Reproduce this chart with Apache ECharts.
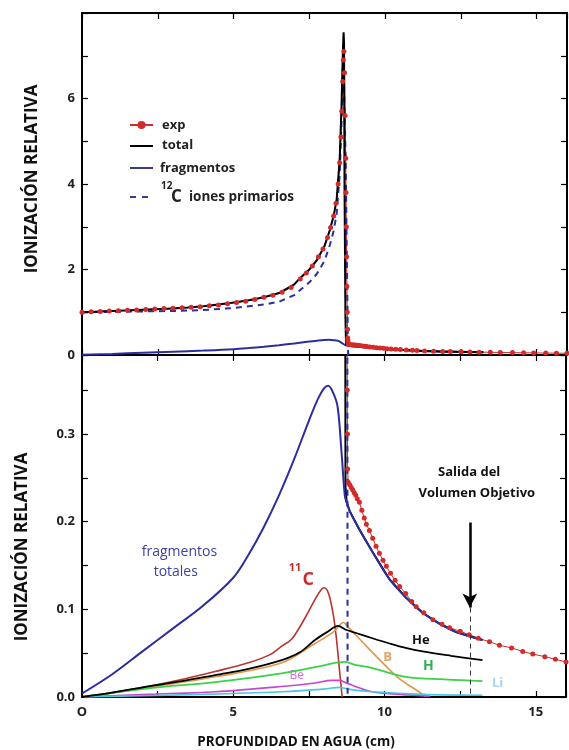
<!DOCTYPE html>
<html><head><meta charset="utf-8">
<script src="https://cdn.jsdelivr.net/npm/echarts@6/dist/echarts.min.js"></script>
<style>html,body{margin:0;padding:0;background:#fff}#c{width:569px;height:750px}</style>
</head><body><div id="c"></div>
<script>
// ---- data (depth in cm, relative ionization) ----
var expX = [0.0,0.3,0.6,0.9,1.2,1.5,1.8,2.1,2.4,2.7,3.0,3.3,3.6,3.9,4.2,4.5,4.8,5.1,5.4,5.7,6.0,6.3,6.6,6.9,7.2,7.4,7.6,7.8,7.95,8.1,8.2,8.3,8.38,8.45,8.5,8.54,8.57,8.6,8.62,8.64,8.66,8.68,8.7,8.71,8.72,8.73,8.74,8.75,8.76,8.765,8.77,8.775,8.78,8.8,8.85,8.9,8.95,9.0,9.05,9.1,9.17,9.25,9.33,9.4,9.5,9.61,9.72,9.83,9.95,10.06,10.2,10.35,10.5,10.7,10.9,11.05,11.3,11.6,11.9,12.15,12.5,12.8,13.1,13.47,13.8,14.2,14.57,14.9,15.3,15.65,16.0];
var expY = [1.0,1.01,1.02,1.03,1.035,1.045,1.055,1.065,1.075,1.085,1.095,1.105,1.115,1.13,1.15,1.17,1.2,1.23,1.26,1.3,1.35,1.4,1.47,1.58,1.78,1.92,2.08,2.3,2.48,2.75,2.98,3.25,3.55,4.0,4.5,5.1,5.7,6.4,6.9,7.1,6.6,5.6,4.6,3.8,3.0,2.3,1.6,1.0,0.6,0.4,0.35,0.3,0.26,0.245,0.242,0.239,0.236,0.233,0.23,0.226,0.222,0.213,0.204,0.197,0.19,0.181,0.172,0.164,0.156,0.149,0.141,0.133,0.126,0.118,0.109,0.103,0.096,0.088,0.083,0.079,0.075,0.071,0.067,0.063,0.059,0.056,0.052,0.049,0.046,0.043,0.04];

var totX = [0,1,2,3,3.5,4,4.5,5,5.5,6,6.5,7,7.2,7.5,7.75,8,8.18,8.3,8.4,8.5,8.56,8.61,8.63,8.645,8.66,8.69,8.71,8.75,8.85,9.17,9.61,10.17,10.72,11.26,11.8,12.37,13.24];
var totY = [1.0,1.03,1.06,1.09,1.11,1.14,1.18,1.23,1.28,1.35,1.45,1.65,1.8,2.0,2.22,2.55,2.93,3.25,3.63,4.57,5.8,7.2,7.55,7.3,4.0,0.9,0.24,0.222,0.212,0.191,0.165,0.134,0.113,0.096,0.084,0.074,0.065];

var fragX = [0,1,2,3,4,5,5.5,6,6.5,7,7.5,7.8,8.0,8.14,8.3,8.45,8.58,8.69,8.75,8.85,9.17,9.61,10.17,10.72,11.26,11.8,12.37,13.24];
var fragY = [0.004,0.026,0.052,0.078,0.104,0.136,0.162,0.193,0.229,0.27,0.315,0.34,0.352,0.355,0.347,0.331,0.279,0.229,0.222,0.212,0.191,0.165,0.134,0.113,0.096,0.084,0.074,0.065];

var primX = [0,1,2,3,4,5,6,6.5,7,7.5,7.75,8.0,8.18,8.3,8.4,8.5,8.56,8.62,8.7,8.76,8.78];
var primY = [1.0,1.01,1.02,1.03,1.05,1.1,1.18,1.245,1.4,1.7,1.9,2.2,2.58,2.9,3.3,4.2,5.4,7.1,4.5,1.0,0.0];

var c11X = [0,1,2,3.3,4.4,5.5,6.2,6.6,6.9,7.15,7.45,7.7,7.9,8.01,8.15,8.3,8.4,8.5,8.6];
var c11Y = [0,0.005,0.011,0.02,0.029,0.039,0.048,0.058,0.065,0.077,0.095,0.111,0.122,0.1245,0.118,0.095,0.07,0.035,0];

var heX = [0,1,2.2,3.3,4.4,5.5,6.6,7.2,7.7,8.1,8.47,8.7,9.06,9.6,10.17,10.7,11.26,12.2,13.24];
var heY = [0,0.005,0.012,0.018,0.025,0.032,0.042,0.051,0.065,0.074,0.081,0.077,0.073,0.067,0.061,0.056,0.052,0.047,0.042];

var bX = [0,2.2,4.4,6.6,7.7,8.3,8.65,8.74,9.4,10.17,10.6,11.05,11.35];
var bY = [0,0.011,0.023,0.039,0.061,0.074,0.085,0.082,0.058,0.031,0.018,0.008,0.001];

var hX = [0,2.2,4.4,6.6,7.7,8.69,9.0,9.6,10.7,12.0,13.24];
var hY = [0,0.01,0.017,0.027,0.034,0.04,0.037,0.033,0.023,0.02,0.018];

var beX = [0,2.2,4.4,6.6,7.7,8.25,8.5,8.8,9.6,10.5,11.5];
var beY = [0,0.003,0.006,0.012,0.016,0.019,0.019,0.015,0.006,0.003,0.001];

var liX = [0,4,6.6,8.0,8.5,8.8,9.6,11.26,13.24];
var liY = [0,0.003,0.006,0.009,0.011,0.009,0.006,0.003,0.002];

var exitDepth = 12.82;          // "Salida del Volumen Objetivo"
var arrowTop = 0.199, arrowTip = 0.102;

function pairs(xs, ys){ return xs.map(function(x,i){ return [x, ys[i]]; }); }

var FONT = '"Open Sans", "DejaVu Sans", sans-serif';
var BLUE = '#2b2e9c', RED = '#d42a2a';

var chart = echarts.init(document.getElementById('c'), null, {renderer:'canvas'});

function xAx(grid, pos, labels){
  return {type:'value', gridIndex:grid, position:pos, min:0, max:16, interval:2.5,
    axisLine:{show:true, onZero:false, lineStyle:{color:'#000', width:2}},
    axisTick:{show:true, inside:true, length:6, lineStyle:{color:'#000', width:1.2}},
    splitLine:{show:false},
    axisLabel:{show:labels, margin:9, fontFamily:FONT, fontWeight:'bold', fontSize:13, color:'#222',
      formatter:function(v){ if(v===0) return 'O'; return (Math.abs(v%5)<1e-9 && v<16)? String(v): ''; }}
  };
}
function yAx(grid, pos, max, interval, labels, fmt){
  return {type:'value', gridIndex:grid, position:pos, min:0, max:max, interval:interval,
    axisLine:{show:true, onZero:false, lineStyle:{color:'#000', width:2}},
    axisTick:{show:true, inside:true, length:6, lineStyle:{color:'#000', width:1.2}},
    splitLine:{show:false},
    axisLabel:{show:labels, margin:7, fontFamily:FONT, fontWeight:'bold', fontSize:13, color:'#222', formatter:fmt}
  };
}

function lineS(name, xs, ys, color, width, gi, extra){
  var s = {name:name, type:'line', xAxisIndex:gi*2, yAxisIndex:gi*2, data:pairs(xs,ys),
    symbol:'none', smooth:0.35, clip:true, animation:false,
    lineStyle:{color:color, width:width}, itemStyle:{color:color}};
  if (extra) for (var k in extra) s[k]=extra[k];
  return s;
}
function expS(gi){
  return {name:'exp', type:'line', xAxisIndex:gi*2, yAxisIndex:gi*2, data:pairs(expX,expY),
    symbol:'circle', symbolSize:5, showSymbol:true, showAllSymbol:true, clip:true, animation:false,
    lineStyle:{color:RED, width:1}, itemStyle:{color:RED}};
}
function primS(gi){
  return lineS('12C', primX, primY, BLUE, 2, gi, {smooth:false, lineStyle:{color:BLUE, width:2, type:[6,5]}});
}
function totS(gi){
  return lineS('total', totX, totY, '#000', 2, gi, {smooth:false, lineStyle:{color:'#000', width:2, join:'miter'}});
}

var series = [
  expS(0),
  lineS('fragmentos', fragX, fragY, BLUE, 2, 0),
  primS(0),
  totS(0),

  expS(1),
  lineS('11C', c11X, c11Y, '#b83530', 1.6, 1),
  lineS('B', bX, bY, '#e3964a', 1.6, 1),
  lineS('H', hX, hY, '#3ad24a', 1.8, 1),
  lineS('Be', beX, beY, '#cc44cc', 1.6, 1),
  lineS('Li', liX, liY, '#45c8e0', 1.6, 1, {
    markLine:{silent:true, animation:false, symbol:['none','none'], label:{show:false},
      lineStyle:{color:'#333', width:1, type:[5,4]},
      data:[[{coord:[exitDepth, arrowTip]},{coord:[exitDepth, 0]}]]}
  }),
  lineS('He', heX, heY, '#000', 1.8, 1, {
    markLine:{silent:true, animation:false, symbol:['none','arrow'], symbolSize:[11,14], label:{show:false},
      lineStyle:{color:'#000', width:2.5, type:'solid'},
      data:[[{coord:[exitDepth, arrowTop]},{coord:[exitDepth, arrowTip]}]]}
  }),
  totS(1),
  primS(1),
  lineS('fragmentos', fragX, fragY, BLUE, 2, 1)
];

chart.setOption({
  animation:false,
  backgroundColor:'#fff',
  grid:[{left:82, right:2, top:13, height:342},{left:82, right:2, top:355, height:342}],
  xAxis:[xAx(0,'bottom',false), xAx(0,'top',false), xAx(1,'bottom',true), xAx(1,'top',false)],
  yAxis:[
    yAx(0,'left',8,1,true,function(v){ return (v%2===0 && v<8)? String(v): ''; }),
    yAx(0,'right',8,1,false),
    yAx(1,'left',0.39,0.05,true,function(v){ var t=v*10; return Math.abs(t-Math.round(t))<1e-6? v.toFixed(1): ''; }),
    yAx(1,'right',0.39,0.05,false)
  ],
  series:series
});

// legend drawn as graphics (upper panel)
var LG = [];
function lgLine(y, color, dash){
  LG.push({type:'line', shape:{x1:130, y1:y, x2:153, y2:y}, style:{stroke:color, lineWidth:2, lineDash:dash||null}});
}
function lgText(x, y, t, size){
  LG.push({type:'text', x:x, y:y, style:{text:t, fill:'#222', font:'bold '+(size||13)+'px '+FONT, align:'left', verticalAlign:'middle'}});
}
lgLine(125, RED); LG.push({type:'circle', shape:{cx:141.5, cy:125, r:4}, style:{fill:RED}}); lgText(162, 125, 'exp');
lgLine(146, '#000'); lgText(162, 145, 'total');
lgLine(168, '#3a3a88'); lgText(160, 168, 'fragmentos');
LG.push({type:'line', shape:{x1:130, y1:197, x2:150, y2:197}, style:{stroke:'#3a3a88', lineWidth:2, lineDash:[6,6]}});
lgText(161, 186, '12', 10); lgText(171, 197, 'C', 17); lgText(189, 197, 'iones primarios', 13.5);

// annotations placed in data coordinates of the lower panel
var notes = [
  {t:'fragmentos', x:3.22, y:0.1655, c:'#3f42a0', s:14, w:'normal'},
  {t:'totales', x:3.1, y:0.1426, c:'#3f42a0', s:14, w:'normal'},
  {t:'He', x:11.2, y:0.065, c:'#111', s:13, w:'bold'},
  {t:'B', x:10.1, y:0.045, c:'#e8a060', s:13, w:'bold'},
  {t:'H', x:11.45, y:0.035, c:'#33b055', s:14, w:'bold'},
  {t:'Be', x:7.1, y:0.024, c:'#d070d0', s:12, w:'normal'},
  {t:'Li', x:13.74, y:0.016, c:'#a8d4f0', s:13, w:'bold'},
  {t:'Salida del', x:12.8, y:0.2566, c:'#111', s:13, w:'bold'},
  {t:'Volumen Objetivo', x:13.05, y:0.2325, c:'#111', s:13, w:'bold'}
];
var g = notes.map(function(n){
  var p = chart.convertToPixel({gridIndex:1}, [n.x, n.y]);
  return {type:'text', x:p[0], y:p[1], style:{text:n.t, fill:n.c, font:n.w+' '+n.s+'px '+FONT, align:'center', verticalAlign:'middle'}};
});
var p11 = chart.convertToPixel({gridIndex:1}, [7.04, 0.1474]);
var pC = chart.convertToPixel({gridIndex:1}, [7.48, 0.134]);
g.push({type:'text', x:p11[0], y:p11[1], style:{text:'11', fill:'#cc2a2a', font:'bold 11px '+FONT, align:'center', verticalAlign:'middle'}});
g.push({type:'text', x:pC[0], y:pC[1], style:{text:'C', fill:'#cc2a2a', font:'bold 18px '+FONT, align:'center', verticalAlign:'middle'}});
g.push({type:'text', x:32, y:179, rotation:Math.PI/2, style:{text:'IONIZACIÓN RELATIVA', fill:'#111', font:'bold 17px '+FONT, align:'center', verticalAlign:'middle'}});
g.push({type:'text', x:22, y:547, rotation:Math.PI/2, style:{text:'IONIZACIÓN RELATIVA', fill:'#111', font:'bold 17px '+FONT, align:'center', verticalAlign:'middle'}});
g.push({type:'text', x:296, y:742, style:{text:'PROFUNDIDAD EN AGUA (cm)', fill:'#111', font:'bold 13.5px '+FONT, align:'center', verticalAlign:'middle'}});
chart.setOption({graphic:g.concat(LG)});
</script></body></html>
